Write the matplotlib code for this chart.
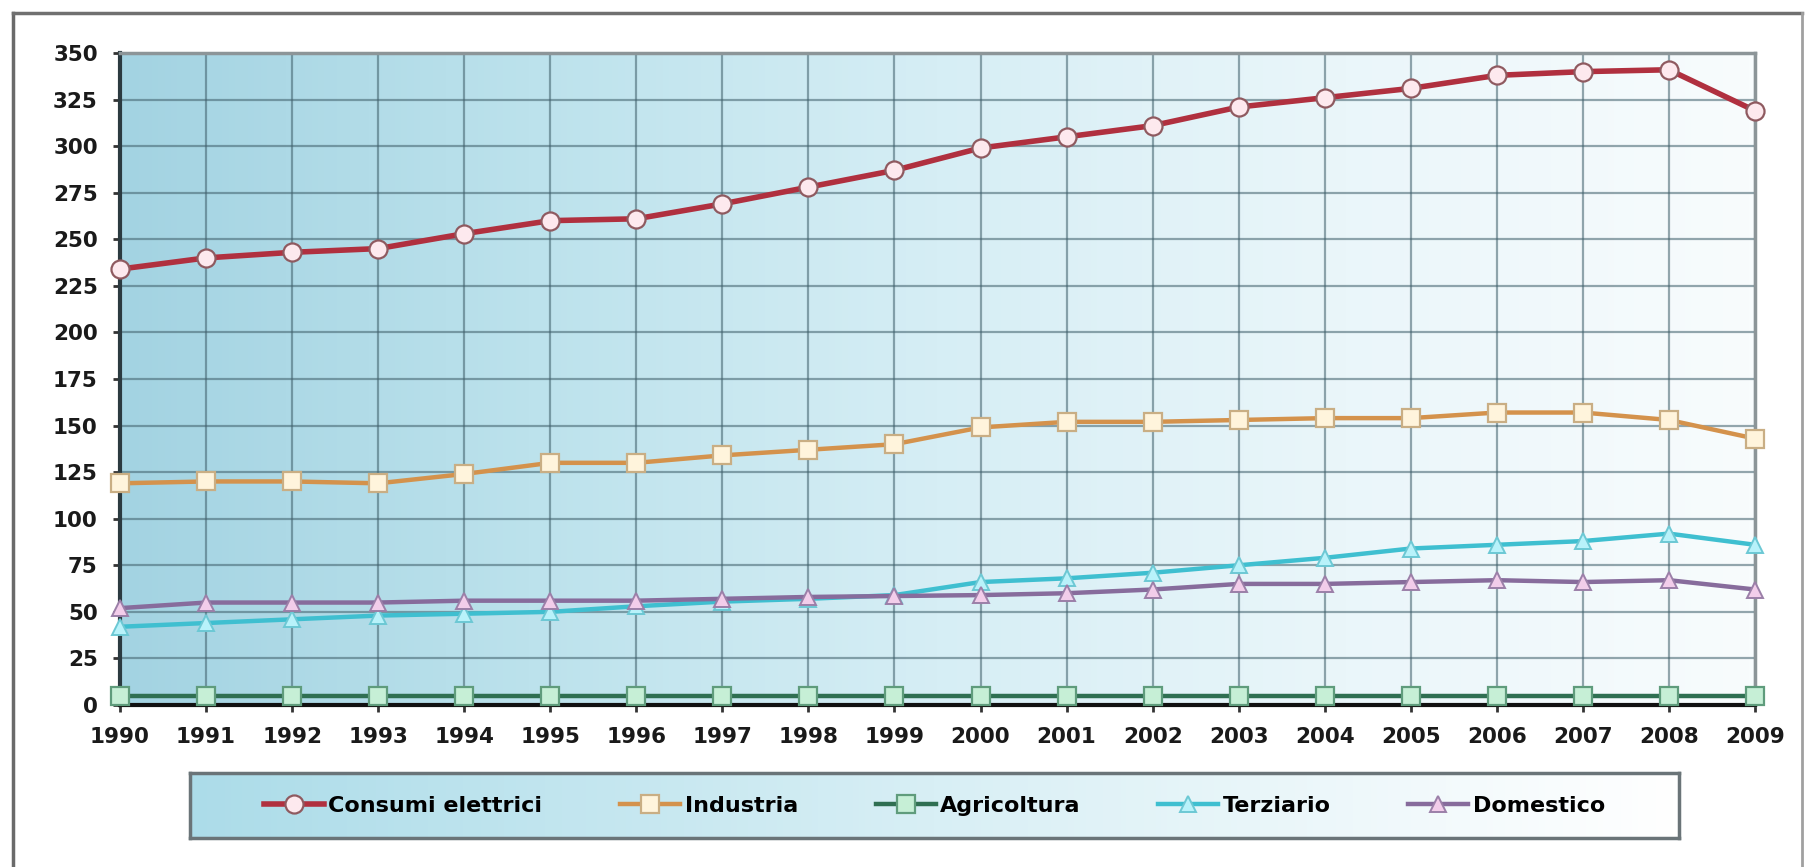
import numpy as np
import matplotlib.pyplot as plt
from matplotlib.lines import Line2D
from matplotlib.colors import LinearSegmentedColormap

# Consumi di energia elettrica per settore (1990-2009)
anni = [1990, 1991, 1992, 1993, 1994, 1995, 1996, 1997, 1998, 1999,
        2000, 2001, 2002, 2003, 2004, 2005, 2006, 2007, 2008, 2009]
consumi_elettrici = [234, 240, 243, 245, 253, 260, 261, 269, 278, 287,
                     299, 305, 311, 321, 326, 331, 338, 340, 341, 319]
industria = [119, 120, 120, 119, 124, 130, 130, 134, 137, 140,
             149, 152, 152, 153, 154, 154, 157, 157, 153, 143]
agricoltura = [5, 5, 5, 5, 5, 5, 5, 5, 5, 5,
               5, 5, 5, 5, 5, 5, 5, 5, 5, 5]
terziario = [42, 44, 46, 48, 49, 50, 53, 55.5, 57, 59,
             66, 68, 71, 75, 79, 84, 86, 88, 92, 86]
domestico = [52, 55, 55, 55, 56, 56, 56, 57, 58, 58.5,
             59, 60, 62, 65, 65, 66, 67, 66, 67, 62]
etichette = ["Consumi elettrici", "Industria", "Agricoltura", "Terziario", "Domestico"]
y_ticks = [0, 25, 50, 75, 100, 125, 150, 175, 200, 225, 250, 275, 300, 325, 350]

serie = [consumi_elettrici, industria, agricoltura, terziario, domestico]
stili = [
    dict(color="#b0303f", lw=4.0, marker="o", ms=13, mfc="#fde9ee", mec="#8f5a60", mew=1.6),
    dict(color="#d4924c", lw=3.2, marker="s", ms=13, mfc="#fff4dc", mec="#c9ae84", mew=1.6),
    dict(color="#2f6f52", lw=3.2, marker="s", ms=13, mfc="#c6efd6", mec="#5f9c7c", mew=1.6),
    dict(color="#3fbfd0", lw=3.2, marker="^", ms=11, mfc="#b8f2fa", mec="#6cc8d4", mew=1.4),
    dict(color="#876c9c", lw=3.2, marker="^", ms=11, mfc="#f2cdea", mec="#9b7fa8", mew=1.4),
]

W, H = 1809, 867
fig = plt.figure(figsize=(W / 100, H / 100), dpi=100)
fig.patch.set_facecolor("white")

# cornice esterna
fig.add_artist(Line2D([13 / W, 13 / W], [0, 1 - 13 / H], color="#6a6a6a", lw=2.5))
fig.add_artist(Line2D([13 / W, 1802 / W], [1 - 13 / H, 1 - 13 / H], color="#707070", lw=2.5))
fig.add_artist(Line2D([1802 / W, 1802 / W], [0, 1 - 13 / H], color="#a0a0a0", lw=2))

sfondo = LinearSegmentedColormap.from_list(
    "sfondo", ["#a3d3e2", "#bce2ec", "#d6eef5", "#eaf6fa", "#f8fcfd"])
grad = np.linspace(0, 1, 256).reshape(1, -1)

ax = fig.add_axes([120 / W, 1 - 705 / H, (1755 - 120) / W, (705 - 53) / H])
ax.imshow(grad, extent=[1990, 2009, 0, 350], aspect="auto", cmap=sfondo, zorder=0)

for valori, stile in zip(serie, stili):
    ax.plot(anni, valori, clip_on=False, zorder=3, **stile)

ax.set_xlim(1990, 2009)
ax.set_ylim(0, 350)
ax.set_xticks(anni)
ax.set_yticks(y_ticks)
ax.set_axisbelow(True)
ax.grid(True, color="#3f5f6a", alpha=0.55, lw=1.6)

ax.spines["left"].set_color("#2b3a40")
ax.spines["left"].set_linewidth(3)
ax.spines["bottom"].set_color("#111111")
ax.spines["bottom"].set_linewidth(3)
for lato in ["top", "right"]:
    ax.spines[lato].set_color("#8c9598")
    ax.spines[lato].set_linewidth(2.5)

ax.tick_params(direction="out", length=5, width=2, color="#333333", pad=11,
               labelsize=15.5, labelcolor="#1a1a1a")
for lab in ax.get_xticklabels() + ax.get_yticklabels():
    lab.set_fontweight("bold")

# riquadro della legenda con sfumatura
lax = fig.add_axes([190 / W, 1 - 838 / H, (1679 - 190) / W, (838 - 773) / H])
lax.imshow(grad, extent=[0, 1, 0, 1], aspect="auto",
           cmap=LinearSegmentedColormap.from_list("leg", ["#acdce9", "#d8eff5", "#ffffff"]))
lax.set_xticks([])
lax.set_yticks([])
for sp in lax.spines.values():
    sp.set_color("#6a7478")
    sp.set_linewidth(2.5)

maniglie = [Line2D([0], [0], **stile) for stile in stili]
lax.legend(maniglie, etichette, loc="center", ncol=5, frameon=False,
           prop={"size": 16, "weight": "bold"}, handlelength=2.7,
           handletextpad=0.2, columnspacing=3.5)

fig.savefig("out.png", dpi=100)
